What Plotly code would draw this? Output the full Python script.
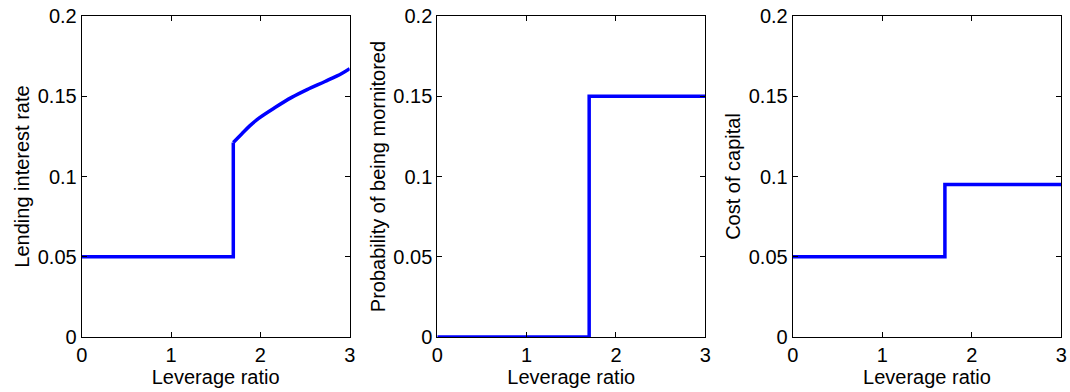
import plotly.graph_objects as go

# Data
lev_flat = [0, 1.697, 1.697]
rate_flat = [0.05, 0.05, 0.1212]
lev_curve = [1.697, 1.791, 1.884, 1.977, 2.164, 2.351, 2.537, 2.724, 2.911, 3.0]
rate_curve = [0.1212, 0.1265, 0.1317, 0.1361, 0.1430, 0.1493, 0.1545, 0.1592, 0.1642, 0.1672]

lev_step = [0, 1.7, 1.7, 3.0]
prob = [0.0, 0.0, 0.15, 0.15]
cost = [0.05, 0.05, 0.095, 0.095]

y_titles = ["Lending interest rate", "Probability of being mornitored", "Cost of capital"]
x_title = "Leverage ratio"
x_ticks = [0, 1, 2, 3]
y_ticks = [0, 0.05, 0.1, 0.15, 0.2]
y_tick_text = ["0", "0.05", "0.1", "0.15", "0.2"]

W, H = 1070, 392
fig = go.Figure()

domains = [(81.7 / W, 349.7 / W), (437.3 / W, 705.3 / W), (792.7 / W, 1061.3 / W)]
traces = [
    (lev_flat, rate_flat, 0, "linear"),
    (lev_curve, rate_curve, 0, "spline"),
    (lev_step, prob, 1, "linear"),
    (lev_step, cost, 2, "linear"),
]

font = "Liberation Sans, Arial, sans-serif"
for xs, ys, i, shape in traces:
    sfx = "" if i == 0 else str(i + 1)
    fig.add_trace(go.Scatter(x=xs, y=ys, mode="lines",
                             line=dict(color="#0000ff", width=3.5, shape=shape),
                             xaxis="x" + sfx, yaxis="y" + sfx,
                             showlegend=False, hoverinfo="skip"))

for i, dom in enumerate(domains):
    sfx = "" if i == 0 else str(i + 1)
    common = dict(showline=True, linecolor="black", linewidth=1, mirror="ticks",
                  ticks="inside", ticklen=5, tickcolor="black", showgrid=False,
                  zeroline=False, automargin=False,
                  tickfont=dict(family=font, size=20, color="black"))
    fig.update_layout(**{
        "xaxis" + sfx: dict(domain=list(dom), range=[0, 3], tickvals=x_ticks,
                            anchor="y" + sfx,
                            title=dict(text=x_title, standoff=0,
                                       font=dict(family=font, size=20, color="black")),
                            **common),
        "yaxis" + sfx: dict(domain=[0, 1], range=[0, 0.2], tickvals=y_ticks,
                            ticktext=y_tick_text, anchor="x" + sfx,
                            title=dict(text=y_titles[i], standoff=2,
                                       font=dict(family=font, size=20, color="black")),
                            **common),
    })

fig.update_layout(width=W, height=H, margin=dict(l=0, r=0, t=16, b=55),
                  plot_bgcolor="white", paper_bgcolor="white",
                  font=dict(family=font, color="black"))

fig.write_html("out.html")
